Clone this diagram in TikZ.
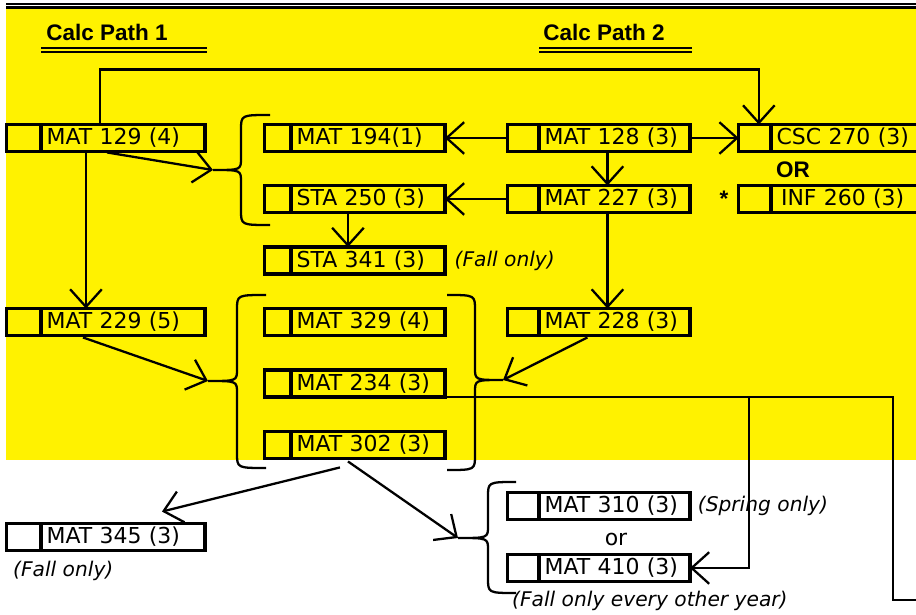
\documentclass[tikz,border=0pt]{standalone}
\usepackage{fontspec}
\setmainfont{DejaVu Sans}
\newfontfamily\headfont{Liberation Sans}
\usepackage{xcolor}
\usetikzlibrary{arrows.meta,positioning,calc}
\definecolor{hilite}{RGB}{255,242,0}

\begin{document}
\begin{tikzpicture}[x=0.02cm,y=-0.02cm,>={Straight Barb[length=10pt,width=18pt]},
  course/.style={draw,line width=2pt,outer sep=0pt,anchor=west,minimum height=15.3pt,inner xsep=3.2pt,inner ysep=0pt,text width=#1,align=left,font=\fontsize{12.5}{14}\selectfont},
  tickbox/.style={draw,line width=2pt,outer sep=0pt,minimum height=15.3pt,minimum width=#1,inner sep=0pt},
  note/.style={font=\fontsize{11.5}{13}\selectfont\itshape},
  head/.style={inner sep=0pt,anchor=base west,font=\headfont\bfseries\fontsize{12.8}{14}\selectfont},
  link/.style={line width=1.3pt},
  rule/.style={line width=1.2pt},
  brace/.style={line width=1.3pt}]
\useasboundingbox (0,0) rectangle (916,615);
\clip (0,0) rectangle (916,615);
\fill[hilite] (6,9) rectangle (916,460);
\draw[rule] (6,4.3) -- (916,4.3) (6,7.5) -- (916,7.5);

\node[head] (path1) at (46,41) {Calc Path 1};
\node[head] (path2) at (543,41) {Calc Path 2};
\draw[rule] (41,48.2) -- (207,48.2) (41,51.9) -- (207,51.9);
\draw[rule] (539,48.2) -- (692,48.2) (539,51.9) -- (692,51.9);

\node[course=86.9pt] (m129) at (41,138) {MAT 129 (4)};
\node[tickbox=19.6pt,left=0pt of m129] (m129b) {};
\node[course=86.9pt] (m229) at (41,322) {MAT 229 (5)};
\node[tickbox=19.6pt,left=0pt of m229] (m229b) {};
\node[course=86.9pt] (m345) at (41,537) {MAT 345 (3)};
\node[tickbox=19.6pt,left=0pt of m345] (m345b) {};

\node[course=81.2pt] (m194) at (291,138) {MAT 194(1)};
\node[tickbox=15pt,left=0pt of m194] (m194b) {};
\node[course=81.2pt] (sta250) at (291,199) {STA 250 (3)};
\node[tickbox=15pt,left=0pt of sta250] (sta250b) {};
\node[course=81.2pt] (sta341) at (291,260.5) {STA 341 (3)};
\node[tickbox=15pt,left=0pt of sta341] (sta341b) {};
\node[course=81.2pt] (m329) at (291,322) {MAT 329 (4)};
\node[tickbox=15pt,left=0pt of m329] (m329b) {};
\node[course=81.2pt] (m234) at (291,383.5) {MAT 234 (3)};
\node[tickbox=15pt,left=0pt of m234] (m234b) {};
\node[course=81.2pt] (m302) at (291,445) {MAT 302 (3)};
\node[tickbox=15pt,left=0pt of m302] (m302b) {};

\node[course=79.5pt] (m128) at (539,138) {MAT 128 (3)};
\node[tickbox=17.9pt,left=0pt of m128] (m128b) {};
\node[course=79.5pt] (m227) at (539,199) {MAT 227 (3)};
\node[tickbox=17.9pt,left=0pt of m227] (m227b) {};
\node[course=79.5pt] (m228) at (539,322) {MAT 228 (3)};
\node[tickbox=17.9pt,left=0pt of m228] (m228b) {};
\node[course=79.5pt] (m310) at (539,506) {MAT 310 (3)};
\node[tickbox=17.9pt,left=0pt of m310] (m310b) {};
\node[course=79.5pt] (m410) at (539,568) {MAT 410 (3)};
\node[tickbox=17.9pt,left=0pt of m410] (m410b) {};

\node[course=84.3pt] (csc270) at (771,138) {CSC 270 (3)};
\node[tickbox=18.4pt,left=0pt of csc270] (csc270b) {};
\node[course=84.3pt] (inf260) at (771,199) {\hspace{2.5pt}INF 260 (3)};
\node[tickbox=18.4pt,left=0pt of inf260] (inf260b) {};

\node[head,anchor=base] (orlbl) at (793,177) {OR};
\node[head,anchor=center] (star) at (724,199) {*};
\node[font=\fontsize{12.5}{14}\selectfont] (orsmall) at (616,539) {or};

\node[note,right=2pt of sta341] (n341) {(Fall only)};
\node[note,right=1pt of m310] (n310) {(Spring only)};
\node[note,anchor=base west] (n410) at (506,606) {(Fall only every other year)};
\node[note,anchor=base west] (n345) at (7,576) {(Fall only)};

\coordinate (br1) at (213,170);
\coordinate (br2) at (208,381);
\coordinate (br3) at (503,380);
\coordinate (br4) at (458,538);
\coordinate (split) at (749,397);
\coordinate (drop) at (893,600);
\coordinate (offpage) at (930,600);

\draw[brace] (270,115) .. controls (241,115) .. (241,130) -- (241,158) .. controls (241,170) .. (br1)
  .. controls (241,170) .. (241,182) -- (241,210) .. controls (241,225) .. (270,225);
\draw[brace] (266,295) .. controls (237,295) .. (237,310) -- (237,369) .. controls (237,381) .. (br2)
  .. controls (237,381) .. (237,393) -- (237,453) .. controls (237,468) .. (266,468);
\draw[brace] (447,295) .. controls (475,295) .. (475,310) -- (475,368) .. controls (475,380) .. (br3)
  .. controls (475,380) .. (475,392) -- (475,455) .. controls (475,470) .. (447,470);
\draw[brace] (516,482) .. controls (488,482) .. (488,497) -- (488,526) .. controls (488,538) .. (br4)
  .. controls (488,538) .. (488,550) -- (488,578) .. controls (488,593) .. (516,593);

\draw[link,->] ($(m129.north)+(-23,0)$) -- ++(0,-55) -| ($(csc270b.north)+(4,0)$);
\draw[link,->] ($(m129.south)+(-37,0)$) -- ($(m229.north)+(-37,0)$);
\draw[link,->] ($(m129.south)+(-16,1)$) -- (br1);
\draw[link,->] (m128b.west) -- (m194.east);
\draw[link,->] (m128.east) -- (csc270b.west);
\draw[link,->] ($(m128.south)+(-7,0)$) -- ($(m227.north)+(-7,0)$);
\draw[link,->] (m227b.west) -- (sta250.east);
\draw[link,->] ($(sta250.south)+(-20,0)$) -- ($(sta341.north)+(-20,0)$);
\draw[link,->] ($(m227.south)+(-7,0)$) -- ($(m228.north)+(-7,0)$);
\draw[link,->] ($(m229.south)+(-40,2)$) -- (br2);
\draw[link,->] ($(m228.south)+(-27,2)$) -- (br3);
\draw[link] (m234.south east) -| (drop) -- (offpage);
\draw[link,->] (split) |- (m410.east);
\draw[link,->] ($(m302.south)+(-28,9)$) -- ($(m345.north)+(39,-12)$);
\draw[link,->] ($(m302.south)+(-20,3)$) -- (br4);
\end{tikzpicture}
\end{document}
